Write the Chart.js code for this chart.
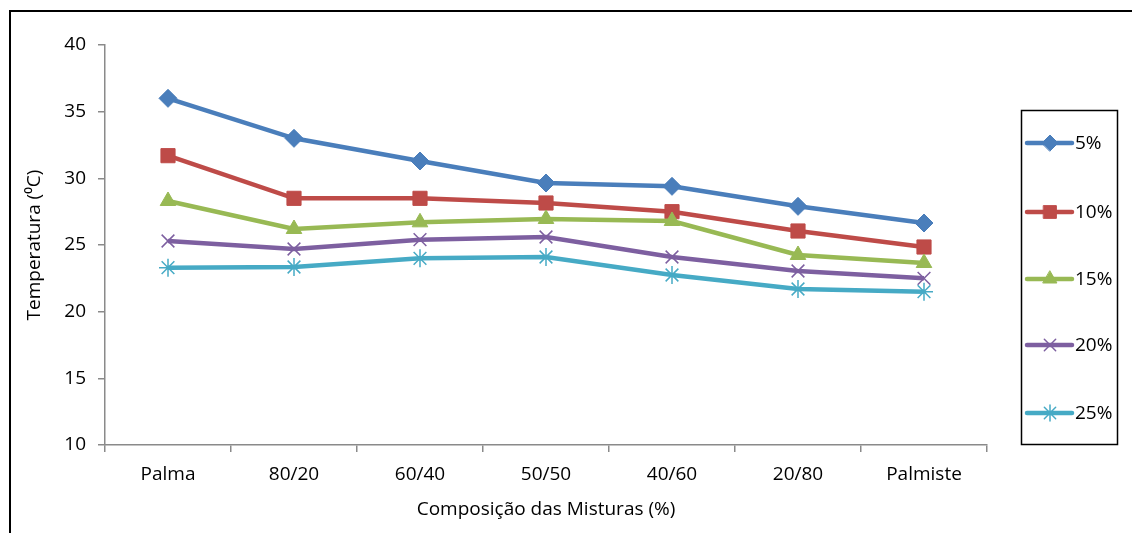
<!DOCTYPE html>
<html>
<head>
<meta charset="utf-8">
<script src="https://cdn.jsdelivr.net/npm/chart.js@4/dist/chart.umd.min.js"></script>
<style>
    html, body { margin: 0; padding: 0; background: #fff; }
    #wrap { width: 1132px; height: 533px; }
</style>
</head>
<body>
<div id="wrap"><canvas id="lineChart" width="1132" height="533"></canvas></div>
<script>
// chart data
const categories = ['Palma', '80/20', '60/40', '50/50', '40/60', '20/80', 'Palmiste'];
const seriesLabels = ['5%', '10%', '15%', '20%', '25%'];
const temp5 = [36.0, 33.0, 31.3, 29.65, 29.4, 27.9, 26.65];
const temp10 = [31.7, 28.5, 28.5, 28.15, 27.5, 26.05, 24.85];
const temp15 = [28.3, 26.2, 26.7, 26.95, 26.8, 24.25, 23.65];
const temp20 = [25.3, 24.7, 25.4, 25.6, 24.1, 23.05, 22.5];
const temp25 = [23.3, 23.35, 24.0, 24.1, 22.75, 21.7, 21.5];
const yMin = 10, yMax = 40, yStep = 5;

// Excel 2007 palette
const seriesColors = ['#4A7EBB', '#BE4B48', '#98B954', '#7D5FA0', '#46AAC5'];
const markerStyles = ['rectRot', 'rect', 'triangle', 'crossRot', 'star'];

const FONT = '"Open Sans", Lato, sans-serif';
const FONT_SIZE = 19;
const axisColor = '#8a8a8a';

function makeDataset(i, values) {
    const thin = markerStyles[i] === 'crossRot' || markerStyles[i] === 'star';
    return {
        label: seriesLabels[i],
        data: values,
        borderColor: seriesColors[i],
        backgroundColor: seriesColors[i],
        borderWidth: 4.5,
        tension: 0,
        pointStyle: markerStyles[i],
        pointRadius: markerStyles[i] === 'rect' ? 10 : 9,
        pointBorderWidth: thin ? 1.5 : 1,
        pointBorderColor: seriesColors[i],
        pointBackgroundColor: seriesColors[i],
        order: 5 - i
    };
}

// outer frame and boxed legend, drawn by hand like the Excel original
const framePlugin = {
    id: 'frame',
    beforeDraw(chart) {
        const ctx = chart.ctx;
        ctx.save();
        ctx.fillStyle = '#ffffff';
        ctx.fillRect(0, 0, chart.width, chart.height);
        ctx.strokeStyle = '#000000';
        ctx.lineWidth = 2;
        ctx.beginPath();
        ctx.moveTo(10, chart.height);
        ctx.lineTo(10, 11);
        ctx.lineTo(chart.width, 11);
        ctx.stroke();
        ctx.restore();
    },
    afterDraw(chart) {
        const ctx = chart.ctx;
        ctx.save();
        ctx.strokeStyle = '#000000';
        ctx.lineWidth = 1.5;
        ctx.strokeRect(1021.5, 110.5, 96, 334);
        const rowY = [143, 212, 279, 345, 413];
        chart.data.datasets.forEach((ds, i) => {
            const y = rowY[i];
            ctx.strokeStyle = ds.borderColor;
            ctx.lineWidth = 4.5;
            ctx.lineCap = 'round';
            ctx.beginPath();
            ctx.moveTo(1027, y);
            ctx.lineTo(1072, y);
            ctx.stroke();
            ctx.fillStyle = ds.pointBackgroundColor;
            ctx.strokeStyle = ds.pointBorderColor;
            ctx.lineWidth = ds.pointBorderWidth;
            Chart.helpers.drawPoint(ctx, {
                pointStyle: ds.pointStyle,
                radius: ds.pointRadius - 1,
                rotation: 0,
                borderWidth: ds.pointBorderWidth
            }, 1050, y);
            ctx.fillStyle = '#000000';
            ctx.font = FONT_SIZE + 'px ' + FONT;
            ctx.textBaseline = 'middle';
            ctx.textAlign = 'left';
            ctx.fillText(ds.label, 1075, y + 1);
        });
        ctx.restore();
    }
};

const chart = new Chart(document.getElementById('lineChart'), {
    type: 'line',
    data: {
        labels: categories,
        datasets: [
            makeDataset(0, temp5),
            makeDataset(1, temp10),
            makeDataset(2, temp15),
            makeDataset(3, temp20),
            makeDataset(4, temp25)
        ]
    },
    options: {
        responsive: false,
        animation: false,
        layout: { padding: { left: 0, top: 45, right: 145, bottom: 0 } },
        plugins: {
            legend: { display: false },
            tooltip: { enabled: false }
        },
        scales: {
            x: {
                offset: true,
                grid: { drawOnChartArea: false, drawTicks: true, tickLength: 7, color: axisColor, lineWidth: 1.5, offset: true },
                border: { color: axisColor, width: 1.5 },
                ticks: { color: '#000', font: { family: FONT, size: FONT_SIZE }, padding: 11, maxRotation: 0 },
                title: { display: true, text: 'Composição das Misturas (%)', color: '#000', font: { family: FONT, size: FONT_SIZE }, padding: { top: 2, bottom: 12 } },
                afterFit(scale) { scale.height = 88; }
            },
            y: {
                min: yMin,
                max: yMax,
                grid: { drawOnChartArea: false, drawTicks: true, tickLength: 7, color: axisColor, lineWidth: 1.5 },
                border: { color: axisColor, width: 1.5 },
                ticks: { stepSize: yStep, color: '#000', font: { family: FONT, size: FONT_SIZE }, padding: 12 },
                title: { display: true, text: 'Temperatura (⁰C)', color: '#000', font: { family: FONT, size: FONT_SIZE }, padding: { top: 23, bottom: 0 } },
                afterFit(scale) { scale.width = 105; }
            }
        }
    },
    plugins: [framePlugin]
});
</script>
</body>
</html>
